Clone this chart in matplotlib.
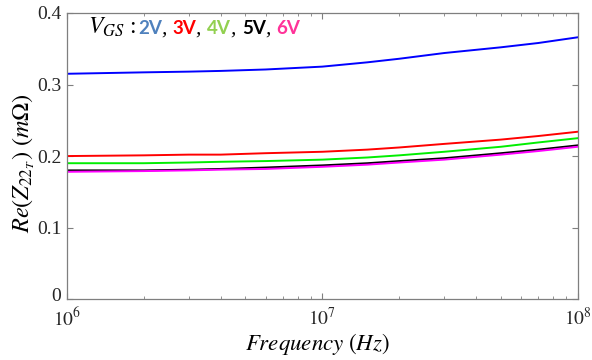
import numpy as np
import matplotlib
matplotlib.use('Agg')
import matplotlib.pyplot as plt
from matplotlib.transforms import ScaledTranslation

plt.rcParams['mathtext.fontset'] = 'stix'
plt.rcParams['font.family'] = ['Liberation Serif', 'DejaVu Serif']

freq = [1e6, 2e6, 3e6, 4e6, 6e6, 1e7, 1.5e7, 2e7, 3e7, 5e7, 7e7, 1e8]

# Re(Z22T) in mOhm, one list per V_GS
v2 = [0.315, 0.317, 0.318, 0.319, 0.321, 0.325, 0.331, 0.336, 0.344, 0.352, 0.358, 0.366]
v3 = [0.200, 0.201, 0.202, 0.202, 0.204, 0.206, 0.209, 0.212, 0.217, 0.223, 0.228, 0.234]
v4 = [0.190, 0.190, 0.191, 0.192, 0.193, 0.195, 0.198, 0.201, 0.206, 0.213, 0.219, 0.225]
v5 = [0.180, 0.180, 0.181, 0.182, 0.184, 0.187, 0.190, 0.193, 0.197, 0.204, 0.209, 0.215]
v6 = [0.178, 0.179, 0.180, 0.181, 0.182, 0.185, 0.188, 0.191, 0.195, 0.202, 0.207, 0.213]

series = [v2, v3, v4, v5, v6]
line_colors = ['#0000ff', '#ff0000', '#00ee00', '#000000', '#ff00ff']

legend_labels = ['2V', '3V', '4V', '5V', '6V']
legend_colors = ['#4f81bd', '#ff0000', '#92d050', '#000000', '#ff3399']

yticks = [0, 0.1, 0.2, 0.3, 0.4]
ytick_labels = ['0', '0.1', '0.2', '0.3', '0.4']
xticks = [1e6, 1e7, 1e8]
xtick_labels = [r'$10^{6}$', r'$10^{7}$', r'$10^{8}$']

fig = plt.figure(figsize=(5.92, 3.6), dpi=100)
ax = fig.add_axes([0.113, 0.169, 0.863, 0.795])

for vals, c in zip(series, line_colors):
    ax.plot(freq, vals, color=c, linewidth=1.4)

ax.set_xscale('log')
ax.set_xlim(1e6, 1e8)
ax.set_ylim(0, 0.4)
ax.set_yticks(yticks)
ax.set_yticklabels(ytick_labels)
ax.set_xticks(xticks)
ax.set_xticklabels(xtick_labels)

for s in ax.spines.values():
    s.set_color('#7f7f7f')
    s.set_linewidth(0.9)
ax.tick_params(which='both', direction='in', top=True, right=True,
               color='#7f7f7f', labelcolor='#262626', labelsize=14)
ax.tick_params(which='major', length=4)
ax.tick_params(which='minor', length=2.5)
ax.tick_params(axis='x', pad=6)
ax.tick_params(axis='y', pad=4)

# lift the "0" a little so it clears 10^6
zero_lab = ax.get_yticklabels()[0]
zero_lab.set_transform(zero_lab.get_transform() + ScaledTranslation(0, 3 / 72, fig.dpi_scale_trans))

ax.set_xlabel(r'$Frequency\ (Hz)$', fontsize=16.5)
ax.xaxis.set_label_coords(0.49, -0.112)
ax.set_ylabel(r'$Re\left(Z_{22_T}\right)\ (m\mathit{\Omega})$', fontsize=17.5)
ax.yaxis.set_label_coords(-0.058, 0.475)

# legend text built from coloured pieces sharing one baseline
renderer = fig.canvas.get_renderer()
inv = ax.transAxes.inverted()
base_y = 0.928
t = ax.text(0.041, base_y, r'$V_{GS}$ : ', transform=ax.transAxes, fontsize=17,
            va='baseline', ha='left')
pieces = []
for i, (lab, c) in enumerate(zip(legend_labels, legend_colors)):
    pieces.append((lab, dict(fontsize=13.5, fontweight='bold', color=c, family='Lato')))
    if i < len(legend_labels) - 1:
        pieces.append((', ', dict(fontsize=15.5, style='italic', color='black')))
for txt, kw in pieces:
    x_next = inv.transform((t.get_window_extent(renderer).x1, 0))[0]
    t = ax.text(x_next, base_y, txt, transform=ax.transAxes, va='baseline',
                ha='left', **kw)

fig.savefig('out.png', dpi=100)
